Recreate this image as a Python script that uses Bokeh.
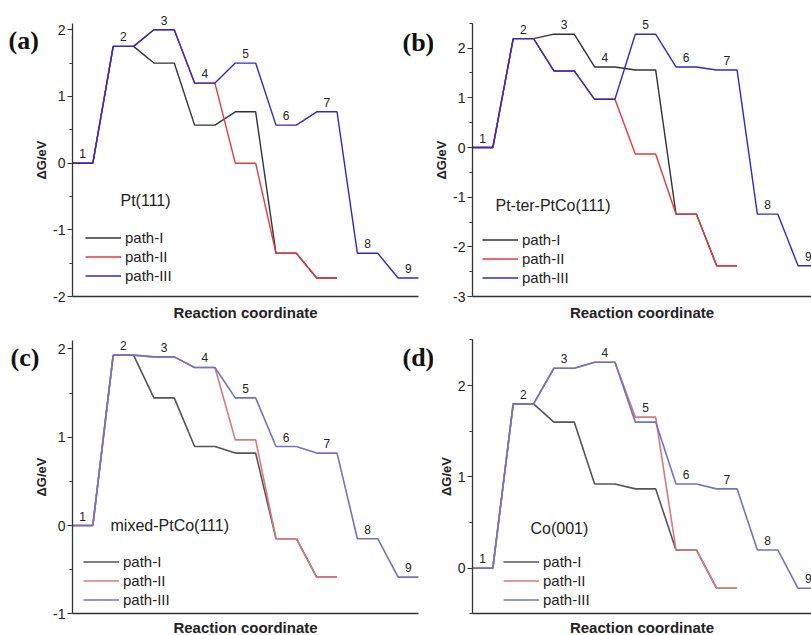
from bokeh.plotting import figure
from bokeh.models import FixedTicker, Range1d, Label, Legend, LegendItem, LinearAxis
from bokeh.layouts import column, row
from bokeh.embed import file_html
from bokeh.resources import INLINE
from bokeh.core.properties import value

# ---------------- data ----------------
step_labels = ["1", "2", "3", "4", "5", "6", "7", "8", "9"]
series_names = ["path-I", "path-II", "path-III"]

# (a) Pt(111)
a_path1 = [0.0, 1.75, 1.50, 0.57, 0.77, -1.35, -1.72]
a_path2 = [0.0, 1.75, 2.00, 1.20, 0.00, -1.35, -1.72]
a_path3 = [0.0, 1.75, 2.00, 1.20, 1.50, 0.57, 0.77, -1.35, -1.72]
a_yticks = [-2, -1, 0, 1, 2]
a_yminor = [-1.5, -0.5, 0.5, 1.5]

# (b) Pt-ter-PtCo(111)
b_path1 = [0.0, 2.19, 2.28, 1.62, 1.56, -1.34, -2.38]
b_path2 = [0.0, 2.19, 1.54, 0.97, -0.13, -1.34, -2.38]
b_path3 = [0.0, 2.19, 1.54, 0.97, 2.28, 1.62, 1.56, -1.34, -2.38]
b_yticks = [-3, -2, -1, 0, 1, 2]
b_yminor = [-2.5, -1.5, -0.5, 0.5, 1.5, 2.5]

# (c) mixed-PtCo(111)
c_path1 = [0.0, 1.93, 1.445, 0.894, 0.82, -0.15, -0.585]
c_path2 = [0.0, 1.93, 1.91, 1.79, 0.97, -0.15, -0.585]
c_path3 = [0.0, 1.93, 1.91, 1.79, 1.445, 0.894, 0.82, -0.15, -0.585]
c_yticks = [-1, 0, 1, 2]
c_yminor = [-0.5, 0.5, 1.5]

# (d) Co(001)
d_path1 = [0.0, 1.80, 1.60, 0.923, 0.869, 0.20, -0.22]
d_path2 = [0.0, 1.80, 2.19, 2.255, 1.655, 0.20, -0.22]
d_path3 = [0.0, 1.80, 2.19, 2.255, 1.60, 0.923, 0.869, 0.20, -0.22]
d_yticks = [0, 1, 2]
d_yminor = [-0.5, 0.5, 1.5, 2.5]

FONT = "Liberation Sans"
TXT = "#222222"
N_STEPS = 17  # x extent of the reaction coordinate


def steps(levels):
    xs, ys = [], []
    for i, v in enumerate(levels):
        xs += [2 * i, 2 * i + 1]
        ys += [v, v]
    return xs, ys


class Geo:
    """pixel geometry of one panel: figure box and data->pixel mapping"""
    def __init__(self, box, x0px, xpu, y0px, ypu):
        self.fx, self.fy, self.fw, self.fh = box
        self.x0px, self.xpu, self.y0px, self.ypu = x0px, xpu, y0px, ypu

    def dx(self, px):
        return (px - self.x0px) / self.xpu

    def dy(self, py):
        return (self.y0px - py) / self.ypu

    def xr(self):
        return Range1d(self.dx(self.fx), self.dx(self.fx + self.fw))

    def yr(self):
        return Range1d(self.dy(self.fy + self.fh), self.dy(self.fy))


def make_panel(paths, colors, geo, ybounds, yticks, yminor, surface, surf_px,
               legend_px, panel_labels, title_standoff, lw):
    p = figure(width=geo.fw, height=geo.fh, output_backend="svg",
               toolbar_location=None, x_range=geo.xr(), y_range=geo.yr(),
               x_axis_type=None, y_axis_type=None)
    p.min_border = 0
    p.min_border_top = 0
    p.min_border_right = 0
    p.min_border_bottom = 0
    p.min_border_left = 0
    p.outline_line_color = None
    p.background_fill_color = "white"
    p.border_fill_color = "white"

    # x axis (fixed at the bottom of the energy scale)
    xa = LinearAxis(fixed_location=ybounds[0], bounds=(0, N_STEPS))
    xa.ticker = FixedTicker(ticks=[])
    xa.major_tick_out = 0
    xa.major_tick_in = 0
    xa.minor_tick_out = 0
    xa.minor_tick_in = 0
    xa.major_label_standoff = 0
    xa.axis_label = "Reaction coordinate"
    xa.axis_label_text_font = FONT
    xa.axis_label_text_font_style = "bold"
    xa.axis_label_text_font_size = "15px"
    xa.axis_label_text_color = TXT
    xa.axis_label_standoff = title_standoff
    xa.axis_line_color = "#333333"
    xa.axis_line_width = 1.3
    p.add_layout(xa, "below")

    # y axis (fixed at x = 0)
    ya = LinearAxis(fixed_location=0, bounds=ybounds)
    ya.ticker = FixedTicker(ticks=yticks, minor_ticks=yminor)
    ya.major_label_overrides = {t: str(t) for t in yticks}
    ya.major_tick_out = 5
    ya.major_tick_in = 0
    ya.minor_tick_out = 3
    ya.minor_tick_in = 0
    ya.major_tick_line_color = "#333333"
    ya.minor_tick_line_color = "#333333"
    ya.axis_line_color = "#333333"
    ya.axis_line_width = 1.3
    ya.major_tick_line_width = 1.2
    ya.minor_tick_line_width = 1.2
    ya.major_label_text_font = FONT
    ya.major_label_text_font_size = "14px"
    ya.major_label_text_color = TXT
    ya.major_label_standoff = 2
    ya.axis_label = "ΔG/eV"
    ya.axis_label_text_font = FONT
    ya.axis_label_text_font_style = "bold"
    ya.axis_label_text_font_size = "13px"
    ya.axis_label_text_color = TXT
    ya.axis_label_standoff = 1
    p.add_layout(ya, "left")

    renderers = {}
    for name, levels, col in zip(series_names, paths, colors):
        xs, ys = steps(levels)
        renderers[name] = p.line(xs, ys, line_color=col, line_width=lw)
    items = [LegendItem(label=n, renderers=[renderers[n]]) for n in series_names]

    # step numbers above the highest level of each step
    nx, ny = [], []
    for i, lab in enumerate(step_labels):
        vals = [pp[i] for pp in paths if i < len(pp)]
        nx.append(2 * i + 0.5)
        ny.append(max(vals))
    p.text(nx, ny, text=step_labels, text_font=value(FONT),
           text_font_size="12px", text_color=TXT, text_align="center",
           text_baseline="bottom", y_offset=-5)

    p.add_layout(Label(x=geo.dx(surf_px[0]), y=geo.dy(surf_px[1]), text=surface,
                       text_font=FONT, text_font_size="16px",
                       text_color=TXT, text_baseline="middle",
                       text_align="left"))

    for (lx, ly, lt) in panel_labels:
        p.add_layout(Label(x=geo.dx(lx), y=geo.dy(ly), text=lt,
                           text_font="Liberation Serif",
                           text_font_style="bold", text_font_size="26px",
                           text_color="#111111", text_baseline="middle",
                           text_align="left"))

    loc = (legend_px[0] - geo.fx, geo.fy + geo.fh - legend_px[1])
    leg = Legend(items=items, location=loc, orientation="vertical")
    leg.label_text_font = FONT
    leg.label_text_font_size = "15px"
    leg.label_text_color = TXT
    leg.glyph_width = 36
    leg.glyph_height = 19
    leg.label_height = 19
    leg.label_standoff = 4
    leg.spacing = 0
    leg.padding = 0
    leg.margin = 0
    leg.border_line_color = None
    leg.background_fill_alpha = 0
    p.add_layout(leg, "center")
    return p


C1 = ["#333333", "#e8383a", "#2a2ad4"]
C2 = ["#555555", "#d97a7a", "#7272c4"]

SPLIT = 433
ga = Geo((0, 0, SPLIT, 320), 72, 20.35, 162.7, 66.75)
gb = Geo((SPLIT, 0, 811 - SPLIT, 320), 472, 20.35, 147.0, 49.7)
gc = Geo((0, 320, SPLIT, 315), 72, 20.35, 525.0, 88.3)
gd = Geo((SPLIT, 320, 811 - SPLIT, 315), 472, 20.35, 567.7, 91.3)

pa = make_panel([a_path1, a_path2, a_path3], C1, ga, (-2, 2.09),
                a_yticks, a_yminor, "Pt(111)", (120, 200), (85, 285),
                [(8, 40, "(a)"), (402, 42, "(b)")], 7, 1.4)
pb = make_panel([b_path1, b_path2, b_path3], C1, gb, (-3, 2.49),
                b_yticks, b_yminor, "Pt-ter-PtCo(111)", (495, 205), (482, 287),
                [], 7, 1.4)
pc = make_panel([c_path1, c_path2, c_path3], C2, gc, (-1, 2.09),
                c_yticks, c_yminor, "mixed-PtCo(111)", (110, 525), (83, 609),
                [(10, 357, "(c)"), (402, 357, "(d)")], 5, 1.6)
pd = make_panel([d_path1, d_path2, d_path3], C2, gd, (-0.5, 2.5),
                d_yticks, d_yminor, "Co(001)", (530, 528), (503, 609),
                [], 5, 1.6)

layout = column(row(pa, pb), row(pc, pd))
open("out.html", "w").write(file_html(layout, INLINE))
